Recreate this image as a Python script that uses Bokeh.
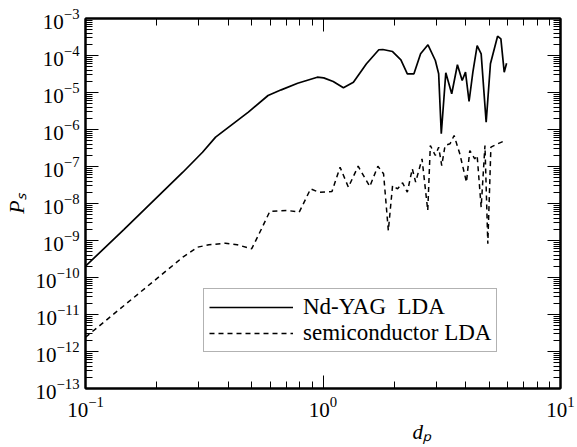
from bokeh.plotting import figure
from bokeh.models import LogAxis, FixedTicker, Legend, LegendItem, Title, Range1d
from bokeh.embed import file_html
from bokeh.resources import INLINE

# Nd-YAG LDA (solid)
nd_x = [0.100, 0.145, 0.257, 0.311, 0.353, 0.485, 0.587, 0.667, 0.782, 0.946,
        1.007, 1.104, 1.219, 1.343, 1.524, 1.718, 1.786, 1.963, 2.128, 2.265,
        2.415, 2.576, 2.767, 2.972, 3.069, 3.148, 3.289, 3.483, 3.681, 3.855,
        3.981, 4.121, 4.276, 4.457, 4.634, 4.864, 5.070, 5.433, 5.610, 5.794, 5.929]
nd_y = [2.02e-10, 1.98e-9, 7.0e-8, 2.43e-7, 6.2e-7, 2.94e-6, 8.3e-6, 1.18e-5, 1.78e-5, 2.59e-5,
        2.49e-5, 1.98e-5, 1.34e-5, 1.90e-5, 5.97e-5, 1.43e-4, 1.45e-4, 1.28e-4, 7.66e-5, 3.20e-5,
        3.20e-5, 1.11e-4, 1.95e-4, 7.33e-5, 3.20e-5, 7.66e-7, 3.40e-5, 9.23e-6, 5.61e-5, 2.11e-5,
        3.54e-5, 5.71e-6, 3.54e-5, 1.86e-4, 1.11e-4, 1.57e-6, 5.97e-5, 3.33e-4, 2.82e-4, 3.54e-5, 6.19e-5]

# semiconductor LDA (dashed)
sc_x = [0.100, 0.257, 0.296, 0.331, 0.388, 0.435, 0.501, 0.551, 0.597, 0.711,
        0.794, 0.887, 0.962, 1.091, 1.180, 1.279, 1.406, 1.574, 1.702, 1.799,
        1.884, 1.963, 2.061, 2.163, 2.265, 2.377, 2.455, 2.612, 2.761, 2.831,
        2.972, 3.069, 3.162, 3.266, 3.428, 3.565, 3.767, 4.018, 4.150, 4.355,
        4.457, 4.634, 4.808, 4.943, 5.093, 5.433, 5.875]
sc_y = [2.43e-12, 3.54e-10, 6.59e-10, 7.66e-10, 8.45e-10, 7.66e-10, 5.97e-10, 2.07e-9, 6.08e-9, 6.47e-9,
        5.82e-9, 2.49e-8, 2.02e-8, 2.11e-8, 9.57e-8, 2.76e-8, 1.02e-7, 2.88e-8, 1.02e-7, 6.35e-8,
        1.86e-9, 3.06e-8, 2.49e-8, 3.62e-8, 2.02e-8, 8.67e-8, 3.77e-8, 1.61e-7, 6.47e-9, 3.70e-7,
        1.98e-7, 3.33e-7, 1.06e-7, 3.70e-7, 4.11e-7, 6.89e-7, 2.20e-7, 3.77e-8, 2.70e-7, 1.61e-7,
        1.98e-7, 7.94e-9, 3.70e-7, 8.15e-10, 3.33e-7, 4.11e-7, 5.05e-7]

x_ticks = [0.1, 1.0, 10.0]
y_ticks = [10.0 ** k for k in range(-13, -2)]
x_minor = [m * 10.0 ** k for k in (-1, 0) for m in range(2, 10)]
y_minor = [m * 10.0 ** k for k in range(-13, -3) for m in range(2, 10)]

y_title = "Pₛ"
x_title = "dₚ"

FONT = "Liberation Serif"

p = figure(x_axis_type="log", y_axis_type="log",
           x_range=Range1d(0.1, 10), y_range=Range1d(1e-13, 1e-3),
           width=577, height=447,
           min_border_left=81, min_border_right=17, min_border_top=18, min_border_bottom=59,
           output_backend="svg", toolbar_location=None)
p.grid.visible = False
p.outline_line_color = "black"
p.outline_line_width = 2
p.background_fill_color = "white"
p.border_fill_color = "white"

xt = FixedTicker(ticks=x_ticks, minor_ticks=x_minor)
yt = FixedTicker(ticks=y_ticks, minor_ticks=y_minor)

def style(ax, show):
    ax.axis_line_width = 2
    ax.major_tick_in = 13
    ax.major_tick_out = 0
    ax.minor_tick_in = 7
    ax.minor_tick_out = 0
    ax.major_tick_line_width = 1
    ax.minor_tick_line_width = 1
    ax.major_label_text_font = FONT
    if show:
        ax.major_label_text_font_size = "21px"
        ax.major_label_text_color = "black"
    else:
        ax.major_label_text_font_size = "2px"
        ax.major_label_text_alpha = 0
        ax.major_label_standoff = 0

p.xaxis[0].ticker = xt
p.yaxis[0].ticker = yt
style(p.xaxis[0], True)
style(p.yaxis[0], True)
p.xaxis[0].major_label_standoff = 8
p.yaxis[0].major_label_standoff = 6

yax = p.yaxis[0]
yax.axis_label = y_title
yax.axis_label_text_font = FONT
yax.axis_label_text_font_style = "italic"
yax.axis_label_text_font_size = "22px"
yax.axis_label_text_color = "black"
yax.axis_label_standoff = 4

top = LogAxis(ticker=xt)
right = LogAxis(ticker=yt)
style(top, False)
style(right, False)
p.add_layout(top, "above")
p.add_layout(right, "right")

p.add_layout(Title(text=x_title, align="left", offset=327, standoff=0,
                   vertical_align="top",
                   text_font=FONT, text_font_style="italic", text_font_size="21px",
                   text_color="black"), "below")

r1 = p.line(nd_x, nd_y, line_color="black", line_width=1.7)
r2 = p.line(sc_x, sc_y, line_color="black", line_width=1.5, line_dash="5 4")

legend = Legend(items=[LegendItem(label="Nd-YAG  LDA", renderers=[r1]),
                       LegendItem(label="semiconductor LDA", renderers=[r2])],
                location=(118, 36), orientation="vertical",
                label_text_font=FONT, label_text_font_size="23px",
                label_text_color="black",
                glyph_width=84, glyph_height=20, label_height=20,
                label_standoff=10, padding=5, spacing=0, margin=0,
                border_line_color="#666666", border_line_width=1,
                background_fill_alpha=1.0)
p.add_layout(legend, "center")

open("out.html", "w").write(file_html(p, INLINE))
